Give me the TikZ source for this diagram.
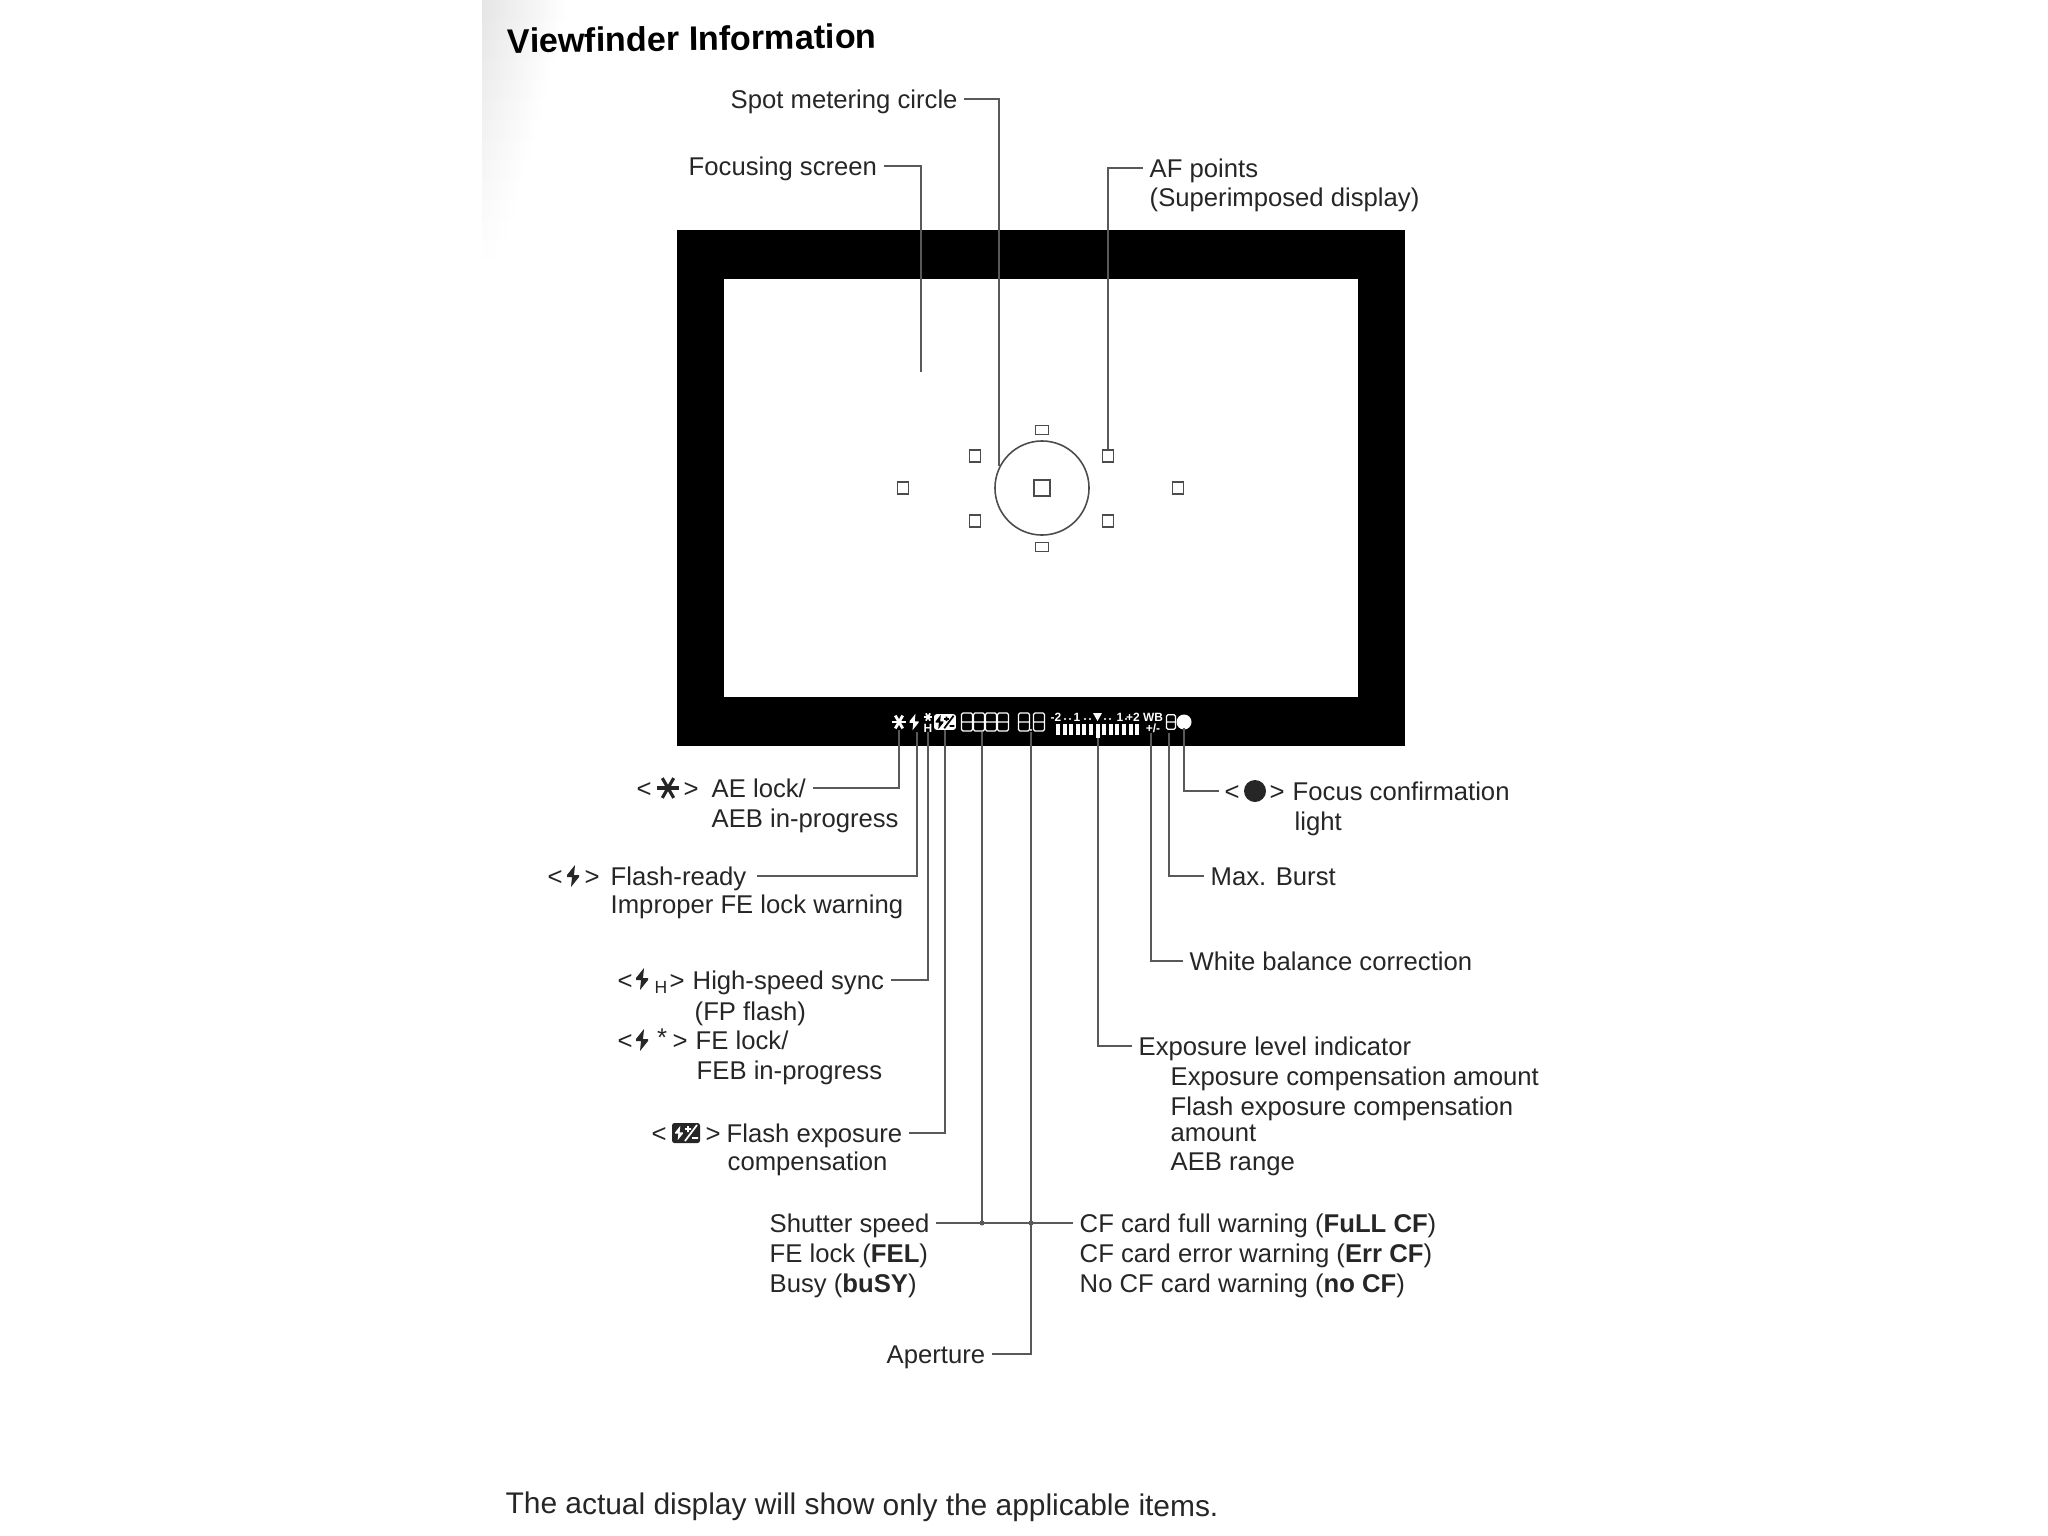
\documentclass[tikz,border=0pt]{standalone}
\usepackage{fontspec}
\setmainfont{Liberation Sans}
\newcommand{\lblfont}{\fontsize{7.3}{8.4}\selectfont}
\newcommand{\tinyfont}{\fontsize{3.4}{4}\selectfont\bfseries}
\colorlet{inkcol}{black!85}
\colorlet{leadcol}{black!65}
\tikzset{
    lbl/.style={anchor=west, inner ysep=0pt, inner xsep=0.06cm, text=inkcol, font=\lblfont, text height=5.2pt, text depth=0pt},
    symb/.style={anchor=center, inner sep=0pt, text=inkcol, font=\lblfont, text height=5.2pt, text depth=0pt},
    bandtxt/.style={anchor=center, inner sep=0pt, text=white, font=\tinyfont},
    leader/.style={draw=leadcol, line width=0.55pt},
    afbox/.style={draw=black!70, line width=0.45pt, inner sep=0pt, minimum width=0.11cm, minimum height=0.12cm},
    boltsym/.pic={\fill (2,-11) -- (-6,-1) -- (-6,1) -- (-1,1) -- (-2,11) -- (6,1) -- (6,-1) -- (1,-1) -- cycle;},
    starsym/.pic={\foreach \rr in {0,60,120} \draw[rotate=\rr] (-12,0) -- (12,0);},
    segdigit/.pic={\draw[white, line width=0.35pt, rounded corners=0.4pt] (-5.5,-9) rectangle (5.5,9) (-5.5,0) -- (5.5,0);},
    compsym/.pic={
        \fill[boxcol, rounded corners=0.7pt] (-14,-10) rectangle (14,10);
        \pic[markcol, scale=0.65] at (-7,0) {boltsym};
        \draw[markcol, line width=0.5pt] (-1,-4) -- (5,-4) (2,-7) -- (2,-1) (-1,8) -- (11,-8) (6,5) -- (12,5);
    }
}
\begin{document}
\begin{tikzpicture}[x=0.01cm, y=-0.01cm]
    \useasboundingbox (0,0) rectangle (2048,1536);

    % Scan shadow
    \foreach \yy in {0,20,...,260} {
        \pgfmathsetmacro{\ww}{max(20,85-0.25*\yy)}
        \pgfmathsetmacro{\gg}{max(0,10-0.04*\yy)}
        \shade[left color=black!\gg, right color=white] (482,\yy) rectangle (482+\ww,\yy+20);
    }

    % Frame
    \fill[black] (677,230) rectangle (1405,746);
    \fill[white] (724,279) rectangle (1358,697);

    % AF points
    \node[afbox, minimum width=0.16cm, minimum height=0.16cm] (afcentre) at (1042,488) {};
    \node[afbox] (afupleft) at (975,456) {};
    \node[afbox] (afupright) at (1108,456) {};
    \node[afbox] (aflowleft) at (975,521) {};
    \node[afbox] (aflowright) at (1108,521) {};
    \node[afbox, minimum width=0.13cm, minimum height=0.09cm] (aftop) at (1042,430) {};
    \node[afbox, minimum width=0.13cm, minimum height=0.09cm] (afbottom) at (1042,547) {};
    \node[afbox] (afleft) at (903,488) {};
    \node[afbox] (afright) at (1178,488) {};
    \node[circle, draw=black!70, line width=0.45pt, inner sep=0pt, minimum size=0.94cm] (spotcircle) at (1042,488) {};

    % Display band
    \pic[white, line width=0.8pt, scale=0.62] at (899,722) {starsym};
    \pic[white, scale=0.75] at (914,722) {boltsym};
    \pic[white, line width=0.5pt, scale=0.35] at (928,717) {starsym};
    \node[bandtxt] (bandh) at (928,728) {H};
    \colorlet{boxcol}{white}\colorlet{markcol}{black}
    \pic[scale=0.78] at (945,722) {compsym};
    \foreach \xx in {967,979,991,1003,1024,1039} \pic at (\xx,722) {segdigit};
    \fill[white] (1031,730) circle (1.2);
    \node[bandtxt] (scaleA) at (1056,717) {-2};
    \node[bandtxt] (scaleB) at (1077,717) {1};
    \node[bandtxt] (scaleC) at (1120,717) {1};
    \node[bandtxt] (scaleD) at (1133,717) {+2};
    \foreach \xx in {1065,1070,1085,1090,1105,1110,1126} \fill[white] (\xx,719) circle (1.2);
    \fill[white] (1093,713) -- (1102,713) -- (1097.5,721) -- cycle;
    \foreach \xx in {0,...,12} \fill[white] (1058+6.6*\xx-2,724) rectangle (1058+6.6*\xx+2,735);
    \fill[white] (1095.5,735) rectangle (1099.5,738);
    \node[bandtxt] (bandwb) at (1153,717) {WB};
    \node[bandtxt] (bandpm) at (1153,728) {+/-};
    \pic[scale=0.8] at (1171,722) {segdigit};
    \fill[white] (1184,722) circle (7.5);

    % Ticks in the band
    \coordinate (aetick) at (899,730);
    \coordinate (flashtick) at (917,732);
    \coordinate (hstick) at (928,732);
    \coordinate (comptick) at (945,730);
    \coordinate (shuttick) at (982,732);
    \coordinate (apertick) at (1031,732);
    \coordinate (exptick) at (1098,738);
    \coordinate (wbtick) at (1151,733);
    \coordinate (bursttick) at (1169,733);
    \coordinate (focustick) at (1184,728);
    \coordinate (screenend) at (921,372);

    % Title and footer
    \node[anchor=west, inner sep=0pt, text=black, font=\fontsize{9.7}{12}\selectfont\bfseries, rotate=0.8] (title) at (507,41) {Viewfinder Information};
    \node[anchor=west, inner sep=0pt, text=inkcol, font=\fontsize{8.5}{10}\selectfont, rotate=-0.2] (footer) at (505,1506) {The actual display will show only the applicable items.};

    % Upper labels
    \node[lbl] (spot) at (724,99) {Spot metering circle};
    \node[lbl] (screen) at (682,166) {Focusing screen};
    \node[lbl] (afpoints) at (1143,168) {AF points};
    \node[lbl] (afnote) at (1143,197) {(Superimposed display)};

    % Left labels
    \node[symb] (aelt) at (644,788) {<};
    \pic[inkcol, line width=0.9pt, scale=0.95] at (668,788) {starsym};
    \node[symb] (aegt) at (691,788) {>};
    \node[lbl] (aelock) at (705,788) {AE lock/};
    \node[lbl] (aeb) at (705,818) {AEB in-progress};

    \node[symb] (flashlt) at (555,876) {<};
    \pic[inkcol] at (573,876) {boltsym};
    \node[symb] (flashgt) at (592,876) {>};
    \node[lbl] (flash) at (604,876) {Flash-ready};
    \node[lbl] (improper) at (604,904) {Improper FE lock warning};

    \node[symb] (hslt) at (625,980) {<};
    \pic[inkcol] at (642,979) {boltsym};
    \node[symb, font=\fontsize{5}{6}\selectfont, text height=3.6pt] (hsh) at (661,987) {H};
    \node[symb] (hsgt) at (677,980) {>};
    \node[lbl] (hsync) at (686,980) {High-speed sync};
    \node[lbl] (fpflash) at (688,1011) {(FP flash)};

    \node[symb] (felt) at (625,1040) {<};
    \pic[inkcol] at (642,1040) {boltsym};
    \node[symb] (festar) at (662,1037) {*};
    \node[symb] (fegt) at (680,1040) {>};
    \node[lbl] (felock) at (689,1040) {FE lock/};
    \node[lbl] (feb) at (690,1070) {FEB in-progress};

    \node[symb] (complt) at (659,1133) {<};
    \colorlet{boxcol}{inkcol}\colorlet{markcol}{white}
    \pic at (686,1133) {compsym};
    \node[symb] (compgt) at (713,1133) {>};
    \node[lbl] (comp) at (720,1133) {Flash exposure};
    \node[lbl] (compb) at (721,1161) {compensation};

    % Right labels
    \node[symb] (focuslt) at (1232,791) {<};
    \fill[inkcol] (1255,791) circle (11);
    \node[symb] (focusgt) at (1277,791) {>};
    \node[lbl] (focus) at (1286,791) {Focus confirmation};
    \node[lbl] (focusb) at (1288,821) {light};
    \node[lbl] (burst) at (1204,876) {Max. Burst};
    \node[lbl] (wb) at (1183,961) {White balance correction};
    \node[lbl] (exposure) at (1132,1046) {Exposure level indicator};
    \node[lbl] (expa) at (1164,1076) {Exposure compensation amount};
    \node[lbl] (expb) at (1164,1106) {Flash exposure compensation};
    \node[lbl] (expc) at (1164,1132) {amount};
    \node[lbl] (expd) at (1164,1161) {AEB range};

    % Bottom labels
    \node[lbl] (shutter) at (763,1223) {Shutter speed};
    \node[lbl] (fel) at (763,1253) {FE lock (\textbf{FEL})};
    \node[lbl] (busy) at (763,1283) {Busy (\textbf{buSY})};
    \node[lbl] (cffull) at (1073,1223) {CF card full warning (\textbf{FuLL CF})};
    \node[lbl] (cferr) at (1073,1253) {CF card error warning (\textbf{Err CF})};
    \node[lbl] (cfno) at (1073,1283) {No CF card warning (\textbf{no CF})};
    \node[lbl] (aperture) at (880,1354) {Aperture};

    % Leaders
    \draw[leader] (spot.east) -| (spotcircle.153);
    \draw[leader] (screen.east) -| (screenend);
    \draw[leader] (afpoints.west) -| (afupright.north);
    \draw[leader] (aelock.east) -| (aetick);
    \draw[leader] ([xshift=0.04cm]flash.east) -| (flashtick);
    \draw[leader] (hsync.east) -| (hstick);
    \draw[leader] (comp.east) -| (comptick);
    \draw[leader] (shutter.east) -- (cffull.west);
    \draw[leader] (shuttick) -- (shuttick |- shutter.east);
    \draw[leader] (aperture.east) -| (apertick);
    \draw[leader] (exposure.west) -| (exptick);
    \draw[leader] (wb.west) -| (wbtick);
    \draw[leader] (burst.west) -| (bursttick);
    \draw[leader] ([xshift=-0.05cm]focuslt.west) -| (focustick);
    \fill[leadcol] (shuttick |- shutter.east) circle (2.5);
    \fill[leadcol] (apertick |- shutter.east) circle (2.5);
\end{tikzpicture}
\end{document}
